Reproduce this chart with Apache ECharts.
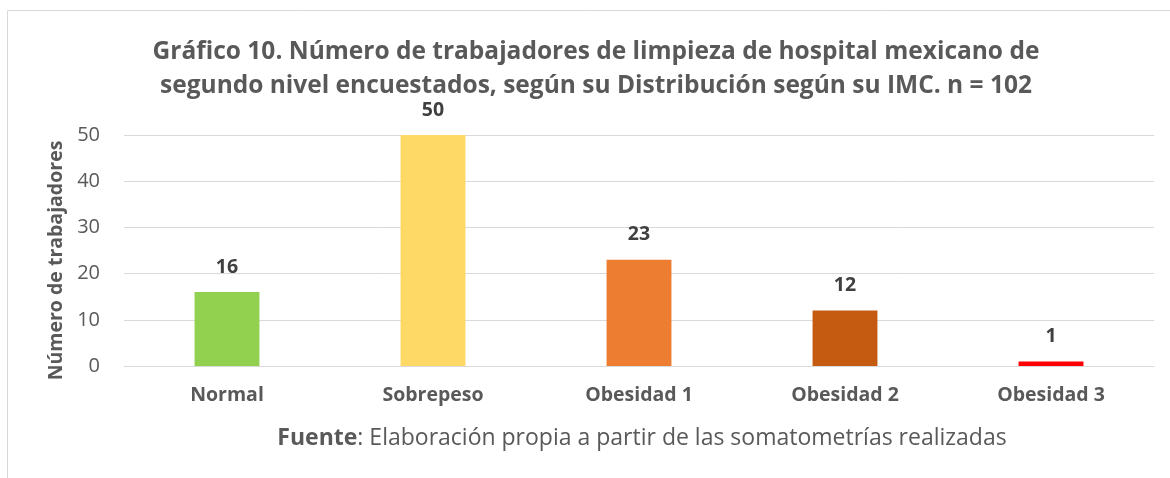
<!DOCTYPE html>
<html>
<head>
<meta charset="utf-8">
<script src="https://cdn.jsdelivr.net/npm/echarts@6/dist/echarts.min.js"></script>
<style>
  html, body { margin: 0; padding: 0; background: #fff; }
  #chart { width: 1170px; height: 478px; }
</style>
</head>
<body>
<div id="chart"></div>
<script>
  // datos del gráfico
  const categories = ['Normal', 'Sobrepeso', 'Obesidad 1', 'Obesidad 2', 'Obesidad 3']
  const values = [16, 50, 23, 12, 1]
  const barColors = ['#92D050', '#FFD966', '#ED7D31', '#C55A11', '#FF0000']
  const yTicks = [0, 10, 20, 30, 40, 50]

  const font = 'Open Sans'
  const chart = echarts.init(document.getElementById('chart'))

  chart.setOption({
    animation: false,
    textStyle: { fontFamily: font },
    title: [
      {
        text: 'Gráfico 10. Número de trabajadores de limpieza de hospital mexicano de\nsegundo nivel encuestados, según su Distribución según su IMC. n = 102',
        left: 591,
        top: 30,
        textAlign: 'center',
        textStyle: {
          fontFamily: font,
          fontSize: 24.5,
          fontWeight: 'bold',
          color: '#595959',
          lineHeight: 34
        }
      },
      {
        text: '{b|Fuente}: Elaboración propia a partir de las somatometrías realizadas',
        left: 637,
        top: 422,
        textAlign: 'center',
        textStyle: {
          fontFamily: font,
          fontSize: 23,
          fontWeight: 'normal',
          color: '#595959',
          rich: {
            b: { fontFamily: font, fontSize: 23, fontWeight: 'bold', color: '#595959' }
          }
        }
      }
    ],
    graphic: [
      {
        type: 'polyline',
        shape: { points: [[7.5, 480], [7.5, 10.5], [1172, 10.5]] },
        style: { stroke: '#D9D9D9', lineWidth: 1, fill: null },
        silent: true
      }
    ],
    grid: { left: 124, right: 16, top: 135, bottom: 112 },
    xAxis: {
      type: 'category',
      data: categories,
      axisLine: { show: true, lineStyle: { color: '#D9D9D9', width: 1 } },
      axisTick: { show: false },
      axisLabel: {
        margin: 19,
        fontFamily: font,
        fontSize: 19.5,
        fontWeight: 'bold',
        color: '#595959'
      }
    },
    yAxis: {
      type: 'value',
      min: yTicks[0],
      max: yTicks[yTicks.length - 1],
      interval: 10,
      name: 'Número de trabajadores',
      nameLocation: 'middle',
      nameGap: 58,
      nameTextStyle: {
        fontFamily: font,
        fontSize: 19.5,
        fontWeight: 'bold',
        color: '#595959',
        padding: [0, 20, 0, 0]
      },
      axisLine: { show: false },
      axisTick: { show: false },
      splitLine: { lineStyle: { color: '#D9D9D9', width: 1 } },
      axisLabel: {
        margin: 24,
        fontFamily: font,
        fontSize: 20,
        color: '#595959'
      }
    },
    series: [
      {
        type: 'bar',
        barWidth: '31.5%',
        data: values.map((v, i) => ({ value: v, itemStyle: { color: barColors[i] } })),
        label: {
          show: true,
          position: 'top',
          distance: 15,
          fontFamily: font,
          fontSize: 19.5,
          fontWeight: 'bold',
          color: '#404040'
        }
      }
    ]
  })
</script>
</body>
</html>
